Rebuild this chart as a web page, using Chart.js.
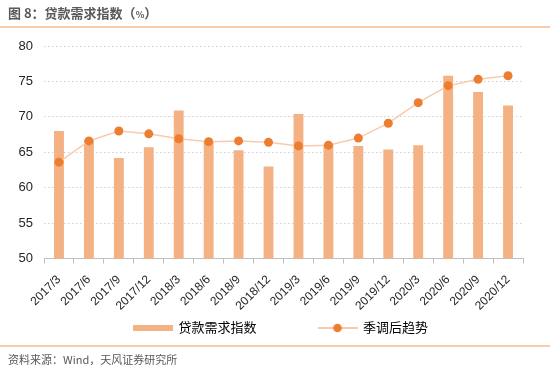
<!DOCTYPE html>
<html>
<head>
<meta charset="utf-8">
<script src="https://cdn.jsdelivr.net/npm/chart.js@4/dist/chart.umd.min.js"></script>
<style>
  html, body { margin: 0; padding: 0; background: #fff; }
  #wrap { position: relative; width: 550px; height: 374px; overflow: hidden; background: #fff; }
  #chart { position: absolute; left: 0; top: 0; }
  #title { position: absolute; left: 8px; top: 3px; font: bold 13px 'Noto Sans CJK SC', 'Liberation Sans', sans-serif; color: #595959; white-space: nowrap; }
  #title .pct { font-size: 9px; }
  #topline { position: absolute; left: 0; top: 26px; width: 550px; height: 2px; background: #F8CBAD; }
  #botline { position: absolute; left: 0; top: 345px; width: 550px; height: 2px; background: #F8CBAD; }
  #source { position: absolute; left: 8px; top: 351px; font: 11px 'Noto Sans CJK SC', 'Liberation Sans', sans-serif; color: #595959; white-space: nowrap; }
</style>
</head>
<body>
<div id="wrap">
  <canvas id="chart" width="550" height="374"></canvas>
  <div id="title">图 8：贷款需求指数（<span class="pct">%</span>）</div>
  <div id="topline"></div>
  <div id="botline"></div>
  <div id="source">资料来源：Wind，天风证券研究所</div>
</div>
<script>
const categories = ['2017/3','2017/6','2017/9','2017/12','2018/3','2018/6','2018/9','2018/12','2019/3','2019/6','2019/9','2019/12','2020/3','2020/6','2020/9','2020/12'];
const loanDemand = [68.0, 66.8, 64.2, 65.7, 70.9, 66.5, 65.3, 63.0, 70.4, 66.1, 65.9, 65.4, 66.0, 75.8, 73.5, 71.6];
const seasonalTrend = [63.6, 66.6, 68.0, 67.6, 66.9, 66.5, 66.6, 66.4, 65.9, 66.0, 67.0, 69.1, 72.0, 74.4, 75.3, 75.8];
const yTicks = [50, 55, 60, 65, 70, 75, 80];
const seriesNames = ['贷款需求指数', '季调后趋势'];

const BAR_COLOR = '#F4B183';
const LINE_COLOR = '#F8CBAD';
const POINT_COLOR = '#ED7D31';
const FONT = "'Liberation Sans', 'Noto Sans CJK SC', sans-serif";

function makeBarIcon() {
  const c = document.createElement('canvas');
  c.width = 40; c.height = 6;
  const g = c.getContext('2d');
  g.fillStyle = BAR_COLOR; g.fillRect(0, 0, 40, 6);
  return c;
}
function makeLineIcon() {
  const c = document.createElement('canvas');
  c.width = 40; c.height = 10;
  const g = c.getContext('2d');
  g.strokeStyle = LINE_COLOR; g.lineWidth = 2;
  g.beginPath(); g.moveTo(0, 5); g.lineTo(40, 5); g.stroke();
  g.fillStyle = POINT_COLOR;
  g.beginPath(); g.arc(20, 5, 4.3, 0, Math.PI * 2); g.fill();
  return c;
}
const icons = [makeBarIcon(), makeLineIcon()];

const layoutFix = {
  id: 'layoutFix',
  afterLayout(chart) {
    const lg = chart.legend;
    if (lg) {
      lg.left = 39; lg.right = 523;
      lg.top = 328 - lg.options.labels.padding - 6.5;
    }
  }
};

new Chart(document.getElementById('chart'), {
  type: 'bar',
  data: {
    labels: categories,
    datasets: [
      {
        type: 'bar',
        label: seriesNames[0],
        data: loanDemand,
        backgroundColor: BAR_COLOR,
        borderWidth: 0,
        categoryPercentage: 1,
        barPercentage: 0.33,
        order: 1
      },
      {
        type: 'line',
        label: seriesNames[1],
        data: seasonalTrend,
        borderColor: LINE_COLOR,
        borderWidth: 1.5,
        pointRadius: 4.5,
        pointHoverRadius: 4.5,
        pointBackgroundColor: POINT_COLOR,
        pointBorderWidth: 0,
        tension: 0,
        order: 0
      }
    ]
  },
  options: {
    responsive: false,
    animation: false,
    layout: { padding: { top: 46, left: 0, right: 27, bottom: 0 } },
    plugins: {
      title: { display: false },
      tooltip: { enabled: false },
      legend: {
        display: true,
        position: 'bottom',
        maxHeight: 60,
        labels: {
          usePointStyle: true,
          pointStyleWidth: 38,
          padding: 62,
          color: '#404040',
          font: { family: FONT, size: 13 },
          generateLabels(chart) {
            return chart.data.datasets.map((ds, i) => ({
              text: ds.label,
              pointStyle: icons[i],
              fillStyle: i === 0 ? BAR_COLOR : POINT_COLOR,
              strokeStyle: 'transparent',
              lineWidth: 0,
              hidden: false,
              datasetIndex: i
            }));
          }
        }
      }
    },
    scales: {
      x: {
        offset: true,
        grid: {
          display: true,
          offset: true,
          drawOnChartArea: false,
          drawTicks: true,
          tickLength: 5,
          color: '#BFBFBF'
        },
        border: { display: true, color: '#BFBFBF', width: 1 },
        ticks: {
          autoSkip: false,
          minRotation: 45,
          maxRotation: 45,
          padding: 9,
          color: '#262626',
          font: { family: FONT, size: 12 }
        },
        afterFit(scale) { scale.height = 55.5; }
      },
      y: {
        min: 50,
        max: 80,
        afterBuildTicks(scale) { scale.ticks = yTicks.map(v => ({ value: v })); },
        grid: {
          drawTicks: false,
          color: (ctx) => (ctx.tick && ctx.tick.value === 50) ? 'rgba(0,0,0,0)' : '#D0D0D0',
          lineWidth: 1
        },
        border: { display: false, dash: [1.5, 2.5] },
        ticks: {
          padding: 11,
          color: '#262626',
          font: { family: FONT, size: 13 }
        },
        afterFit(scale) { scale.width = 44; }
      }
    }
  },
  plugins: [layoutFix]
});
</script>
</body>
</html>
